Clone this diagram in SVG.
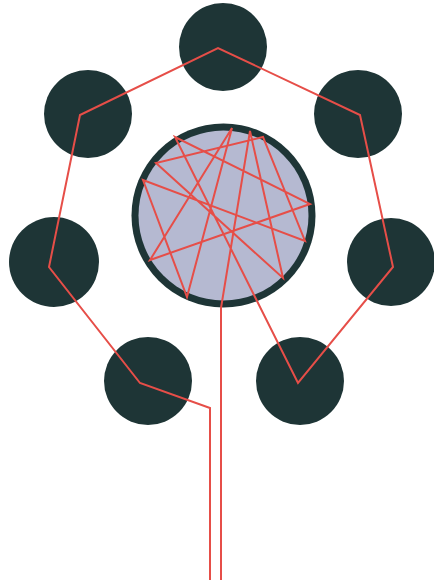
<svg xmlns="http://www.w3.org/2000/svg" width="434" height="584" viewBox="0 0 434 584">
<style>
.node{fill:#1e3536}
.hub-ring{fill:#1e3536}
.hub-fill{fill:#b5b9d1}
.wire{fill:none;stroke:#e64e48;stroke-width:2;stroke-linejoin:miter;stroke-linecap:butt}
</style>
<rect width="434" height="584" fill="#ffffff"/>
<g id="node-top"><circle class="node" cx="223" cy="47" r="44"/></g>
<g id="node-upper-left"><circle class="node" cx="88" cy="114" r="44"/></g>
<g id="node-upper-right"><circle class="node" cx="358" cy="114" r="44"/></g>
<g id="node-mid-left"><circle class="node" cx="54" cy="262" r="45"/></g>
<g id="node-mid-right"><circle class="node" cx="391" cy="262" r="44"/></g>
<g id="node-lower-left"><circle class="node" cx="148" cy="381" r="44"/></g>
<g id="node-lower-right"><circle class="node" cx="300" cy="381" r="44"/></g>
<g id="node-hub">
<circle class="hub-ring" cx="223.5" cy="215.5" r="92"/>
<circle class="hub-fill" cx="223.5" cy="215.5" r="85"/>
</g>
<g id="connectors">
<polyline class="wire" points="210,580 210,408 140,383 49,267 80,115 218,48 360,115 393,267 298,383 175,137 310,204 150,260 232,128 187,297 143,180 305,241 263,137 156,163 283,278 250,131 221,308 221,580"/>
</g>
</svg>
